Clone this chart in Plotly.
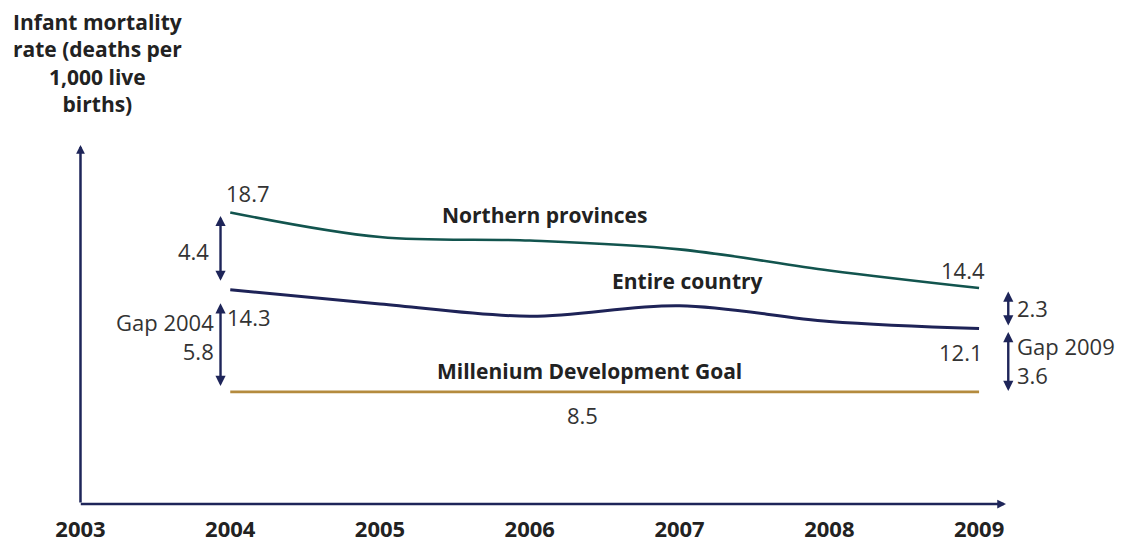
import plotly.graph_objects as go

# ---- data -------------------------------------------------------------
years = [2004, 2005, 2006, 2007, 2008, 2009]
northern = [18.7, 17.3, 17.1, 16.6, 15.4, 14.4]
country = [14.3, 13.5, 12.8, 13.4, 12.5, 12.1]
mdg_goal = 8.5
tick_years = [2003, 2004, 2005, 2006, 2007, 2008, 2009]

gap_2004_north = round(northern[0] - country[0], 1)   # 4.4
gap_2004_goal = round(country[0] - mdg_goal, 1)       # 5.8
gap_2009_north = round(northern[-1] - country[-1], 1) # 2.3
gap_2009_goal = round(country[-1] - mdg_goal, 1)      # 3.6

# ---- styling ----------------------------------------------------------
W, H = 1125, 545
M_L, M_R, M_T, M_B = 73, 101, 145, 41
X_RANGE = [2002.95, 2009.30]
Y_RANGE = [2.13, 22.53]

C_NORTH = "#12544e"
C_COUNTRY = "#1e2357"
C_GOAL = "#b48b3e"
C_AXIS = "#1e2559"
C_TEXT = "#222222"
C_VALUE = "#333333"
FONT = "Open Sans"

fig = go.Figure()

fig.add_trace(go.Scatter(
    x=years, y=northern, mode="lines",
    line=dict(color=C_NORTH, width=2.6, shape="spline", smoothing=1.0),
    name="Northern provinces", hoverinfo="x+y"))
fig.add_trace(go.Scatter(
    x=years, y=country, mode="lines",
    line=dict(color=C_COUNTRY, width=3, shape="spline", smoothing=1.0),
    name="Entire country", hoverinfo="x+y"))
fig.add_trace(go.Scatter(
    x=[years[0], years[-1]], y=[mdg_goal, mdg_goal], mode="lines",
    line=dict(color=C_GOAL, width=2.6),
    name="Millenium Development Goal", hoverinfo="x+y"))

ann = []


def paper_x(px):
    return (px - M_L) / (W - M_L - M_R)


def paper_y(py):
    return (H - M_B - py) / (H - M_T - M_B)


# axes with arrow tips
ann.append(dict(x=2003, y=1, xref="x", yref="y domain",
                ax=2003, ay=0, axref="x", ayref="y domain",
                showarrow=True, arrowhead=2, arrowsize=0.7, arrowwidth=2.5,
                arrowcolor=C_AXIS, text=""))
ann.append(dict(x=2009.18, y=0, xref="x", yref="y domain",
                ax=2003 - 0.008, ay=0, axref="x", ayref="y domain",
                showarrow=True, arrowhead=2, arrowsize=0.7, arrowwidth=2.5,
                arrowcolor=C_AXIS, text=""))


def gap_arrow(x, y_from, y_to, gap_from, gap_to):
    ann.append(dict(x=x, y=y_to, ax=x, ay=y_from,
                    xref="x", yref="y", axref="x", ayref="y",
                    showarrow=True, arrowhead=2, startarrowhead=2,
                    arrowside="end+start", arrowsize=0.85,
                    startarrowsize=0.85, arrowwidth=2.4,
                    arrowcolor=C_AXIS, standoff=gap_to,
                    startstandoff=gap_from, text=""))


X_LEFT_ARROW = years[0] - 0.065
X_RIGHT_ARROW = years[-1] + 0.195

gap_arrow(X_LEFT_ARROW, northern[0], country[0], 2, 9)
gap_arrow(X_LEFT_ARROW, country[0], mdg_goal, 12, 6)
gap_arrow(X_RIGHT_ARROW, northern[-1], country[-1], 2, 3)
gap_arrow(X_RIGHT_ARROW, country[-1], mdg_goal, 2, 1)


def label(text, x, y, xanchor="center", yanchor="middle", bold=False,
          size=22, xshift=0, yshift=0, align="center", color=None):
    ann.append(dict(text=text, x=x, y=y, xref="x", yref="y",
                    xanchor=xanchor, yanchor=yanchor, showarrow=False,
                    xshift=xshift, yshift=yshift, align=align,
                    font=dict(family=FONT, size=size,
                              color=color or (C_TEXT if bold else C_VALUE),
                              weight=700 if bold else 400)))


# value labels
label(f"{northern[0]}", years[0], northern[0], xanchor="left",
      yanchor="bottom", xshift=-6, yshift=2)
label(f"{country[0]}", years[0], country[0], xanchor="left",
      yanchor="top", xshift=-5, yshift=-10)
label(f"{northern[-1]}", years[-1], northern[-1], xanchor="right",
      yanchor="bottom", xshift=8, yshift=1)
label(f"{country[-1]}", years[-1], country[-1], xanchor="right",
      yanchor="top", xshift=6, yshift=-6)
label(f"{mdg_goal}", 2006.35, mdg_goal, yanchor="top", yshift=-6)

# gap labels
label(f"{gap_2004_north}", X_LEFT_ARROW, (northern[0] + country[0]) / 2,
      xanchor="right", xshift=-10)
label(f"Gap 2004<br>{gap_2004_goal}", X_LEFT_ARROW,
      (country[0] + mdg_goal) / 2, xanchor="right", xshift=-5,
      yshift=4, align="right")
label(f"{gap_2009_north}", X_RIGHT_ARROW, (northern[-1] + country[-1]) / 2,
      xanchor="left", xshift=7)
label(f"Gap 2009<br>{gap_2009_goal}", X_RIGHT_ARROW,
      (country[-1] + mdg_goal) / 2, xanchor="left", xshift=7,
      align="left")

# series names
label("Northern provinces", 2006.1, northern[2], bold=True, yanchor="bottom",
      yshift=10, size=21)
label("Entire country", 2007.05, country[3], bold=True, yanchor="bottom",
      yshift=9, size=21)
label("Millenium Development Goal", 2006.4, mdg_goal, bold=True,
      yanchor="bottom", yshift=5, size=21)

# y axis title
ann.append(dict(text="Infant mortality<br>rate (deaths per<br>1,000 live<br>births)",
                x=paper_x(97), y=paper_y(6), xref="paper", yref="paper",
                xanchor="center", yanchor="top", showarrow=False,
                align="center",
                font=dict(family=FONT, size=21, color=C_TEXT, weight=700)))

fig.update_layout(
    width=W, height=H, autosize=False,
    margin=dict(l=M_L, r=M_R, t=M_T, b=M_B),
    paper_bgcolor="white", plot_bgcolor="white",
    showlegend=False,
    annotations=ann,
    xaxis=dict(range=X_RANGE, tickvals=tick_years,
               ticktext=[str(y) for y in tick_years],
               showgrid=False, zeroline=False, showline=False,
               ticks="", ticklabelstandoff=10, automargin=False,
               tickfont=dict(family=FONT, size=22, color=C_TEXT, weight=700)),
    yaxis=dict(range=Y_RANGE, showgrid=False, zeroline=False,
               showline=False, showticklabels=False, ticks="",
               automargin=False),
)

fig.write_html("out.html")
